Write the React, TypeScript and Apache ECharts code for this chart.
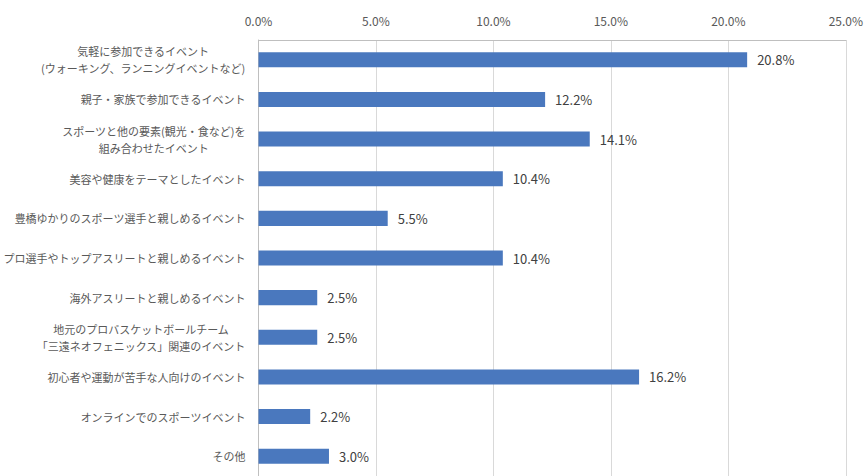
import React, { useEffect, useRef } from "react";
import * as echarts from "echarts";

const categories: string[] = [
  "気軽に参加できるイベント\n(ウォーキング、ランニングイベントなど)",
  "親子・家族で参加できるイベント",
  "スポーツと他の要素(観光・食など)を\n組み合わせたイベント",
  "美容や健康をテーマとしたイベント",
  "豊橋ゆかりのスポーツ選手と親しめるイベント",
  "プロ選手やトップアスリートと親しめるイベント",
  "海外アスリートと親しめるイベント",
  "地元のプロバスケットボールチーム\n「三遠ネオフェニックス」関連のイベント",
  "初心者や運動が苦手な人向けのイベント",
  "オンラインでのスポーツイベント",
  "その他",
];
const values: number[] = [20.8, 12.2, 14.1, 10.4, 5.5, 10.4, 2.5, 2.5, 16.2, 2.2, 3.0];

export default function App() {
  const ref = useRef<HTMLDivElement>(null);
  useEffect(() => {
    if (!ref.current) return;
    const chart = echarts.init(ref.current, undefined, { renderer: "svg" });
    const font = "'Noto Sans CJK JP', 'Noto Sans', sans-serif";
    chart.setOption({
      animation: false,
      backgroundColor: "#ffffff",
      textStyle: { fontFamily: font },
      grid: { left: 258.5, top: 40, width: 589.5, height: 439, containLabel: false },
      xAxis: {
        type: "value",
        position: "top",
        min: 0,
        max: 25,
        interval: 5,
        axisLine: { show: true, lineStyle: { color: "#bfbfbf", width: 1 } },
        axisTick: { show: false },
        splitLine: { show: true, lineStyle: { color: "#d9d9d9", width: 1 } },
        axisLabel: {
          formatter: (v: number) => v.toFixed(1) + "%",
          color: "#595959",
          fontSize: 12,
          margin: 14,
          fontFamily: font,
        },
      },
      yAxis: {
        type: "category",
        inverse: true,
        data: categories,
        axisLine: { show: true, lineStyle: { color: "#bfbfbf", width: 1 } },
        axisTick: { show: false },
        axisLabel: {
          color: "#595959",
          fontSize: 11,
          margin: 13,
          lineHeight: 17,
          fontFamily: font,
          formatter: (v: string) =>
            v
              .split("\n")
              .map((l) => "{c|" + l + "}")
              .join("\n"),
          rich: {
            c: { align: "center", fontSize: 11, lineHeight: 17, color: "#595959", fontFamily: font },
          },
        },
      },
      series: [
        {
          type: "bar",
          data: values,
          barCategoryGap: "62%",
          itemStyle: { color: "#4a78be" },
          label: {
            show: true,
            position: "right",
            distance: 10,
            color: "#404040",
            fontSize: 13,
            fontFamily: font,
            formatter: (p: any) => Number(p.value).toFixed(1) + "%",
          },
        },
      ],
    });
    return () => chart.dispose();
  }, []);
  return (
    <div
      ref={ref}
      style={{ position: "fixed", left: 0, top: 0, width: 866, height: 476 }}
    />
  );
}
